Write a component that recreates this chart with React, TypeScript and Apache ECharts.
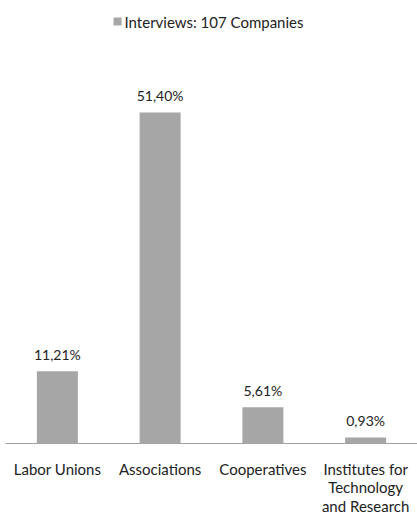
import React, { useEffect, useRef } from "react";
import * as echarts from "echarts";

const categories = ["Labor Unions", "Associations", "Cooperatives", "Institutes for\nTechnology\nand Research"];
const values = [11.21, 51.4, 5.61, 0.93];
const seriesName = "Interviews: 107 Companies";

export default function App() {
  const ref = useRef<HTMLDivElement>(null);
  useEffect(() => {
    if (!ref.current) return;
    const chart = echarts.init(ref.current, null, { renderer: "svg" });
    const font = "Lato, 'Open Sans', sans-serif";
    chart.setOption({
      animation: false,
      backgroundColor: "#ffffff",
      textStyle: { fontFamily: font },
      legend: {
        top: 9,
        left: "center",
        itemWidth: 8,
        itemHeight: 8,
        itemGap: 4,
        icon: "rect",
        textStyle: { fontSize: 15, color: "#222", fontFamily: font, padding: [0, 0, 0, -2] },
        data: [seriesName],
      },
      grid: { left: 6, top: 57, width: 416, bottom: 515 - 441 - 16, containLabel: false },
      xAxis: {
        type: "category",
        data: categories,
        axisLine: { lineStyle: { color: "#a0a0a0", width: 1 } },
        axisTick: { show: false },
        axisLabel: { fontSize: 15, color: "#222", fontFamily: font, margin: 16, lineHeight: 18.5, interval: 0 },
      },
      yAxis: {
        type: "value",
        min: 0,
        max: 60,
        show: false,
        splitLine: { show: false },
      },
      series: [
        {
          name: seriesName,
          type: "bar",
          data: values,
          barWidth: 41,
          itemStyle: { color: "#a6a6a6" },
          label: {
            show: true,
            position: "top",
            distance: 10,
            fontSize: 14,
            color: "#222",
            fontFamily: font,
            formatter: (p: any) => p.value.toFixed(2).replace(".", ",") + "%",
          },
        },
      ],
    });
    return () => chart.dispose();
  }, []);
  return <div ref={ref} style={{ width: 417, height: 515, position: "absolute", left: 0, top: 0 }} />;
}
